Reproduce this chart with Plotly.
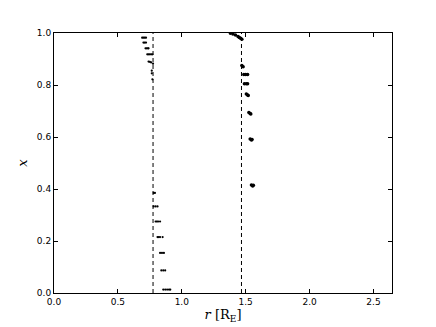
import plotly.graph_objects as go

# radial distance of the particles [R_E]
r_inner = [0.69, 0.70, 0.71, 0.72, 0.70, 0.71, 0.72, 0.716, 0.725, 0.735, 0.74, 0.73, 0.74, 0.75, 0.76, 0.77,
           0.74, 0.75, 0.76, 0.775, 0.765, 0.765, 0.77,
           0.78, 0.79, 0.78, 0.795, 0.81, 0.795, 0.805, 0.815, 0.83, 0.81, 0.82, 0.83, 0.85, 0.83, 0.845, 0.86,
           0.84, 0.855, 0.87, 0.855, 0.87, 0.885, 0.90, 0.91]
x_inner = [0.982, 0.982, 0.982, 0.982, 0.963, 0.963, 0.963, 0.941, 0.941, 0.941, 0.941, 0.918, 0.918, 0.918, 0.918, 0.918,
           0.89, 0.889, 0.887, 0.882, 0.855, 0.845, 0.822,
           0.385, 0.385, 0.333, 0.333, 0.333, 0.275, 0.275, 0.275, 0.275, 0.215, 0.215, 0.215, 0.215, 0.154, 0.154, 0.154,
           0.087, 0.087, 0.087, 0.013, 0.013, 0.013, 0.013, 0.013]

r_outer = [1.38, 1.40, 1.42, 1.44, 1.45, 1.46, 1.47,
           1.47, 1.48, 1.485, 1.50, 1.515, 1.49, 1.505, 1.515, 1.505, 1.515, 1.52, 1.525, 1.535, 1.54, 1.535, 1.545,
           1.55, 1.545, 1.555, 1.56]
x_outer = [0.999, 0.996, 0.992, 0.987, 0.983, 0.980, 0.976,
           0.875, 0.870, 0.840, 0.840, 0.840, 0.805, 0.805, 0.805, 0.765, 0.762, 0.760, 0.694, 0.690, 0.688, 0.592,
           0.588, 0.590, 0.415, 0.412, 0.414]

# boundaries (dashed lines)
r_bounds = [0.775, 1.467]

fig = go.Figure()
for rb in r_bounds:
    fig.add_trace(go.Scatter(x=[rb, rb], y=[0, 1], mode="lines",
                             line=dict(color="black", width=1, dash="4px,3px")))
fig.add_trace(go.Scatter(x=r_inner, y=x_inner, mode="markers",
                         marker=dict(color="black", size=2.2, line=dict(width=0))))
fig.add_trace(go.Scatter(x=r_outer, y=x_outer, mode="markers",
                         marker=dict(color="black", size=3.5, line=dict(width=0))))

axis_style = dict(showline=True, linecolor="black", linewidth=1, mirror="ticks",
                  ticks="inside", ticklen=4, tickwidth=0.6, tickcolor="black", showgrid=False, zeroline=False,
                  automargin=False,
                  tickfont=dict(family="DejaVu Sans", size=9, color="black"))

fig.update_xaxes(range=[0, 2.645], tickvals=[0, 0.5, 1.0, 1.5, 2.0, 2.5], tickformat=".1f",
                 title=dict(text="<i>r</i> [R<sub>E</sub>]", font=dict(family="DejaVu Serif", size=13, color="black"),
                            standoff=4),
                 **axis_style)
fig.update_yaxes(range=[0, 1], tickvals=[0, 0.2, 0.4, 0.6, 0.8, 1.0], tickformat=".1f",
                 title=dict(text="<i>x</i>", font=dict(family="DejaVu Serif", size=13, color="black"), standoff=6),
                 **axis_style)

fig.update_layout(width=436, height=327, showlegend=False,
                  margin=dict(l=54, r=44, t=33, b=34),
                  plot_bgcolor="white", paper_bgcolor="white")

# drop the browser's default 8px body margin so the figure fills the window
fig.write_html("out.html", config={"displayModeBar": False},
               post_script="document.body.style.margin='0';")
